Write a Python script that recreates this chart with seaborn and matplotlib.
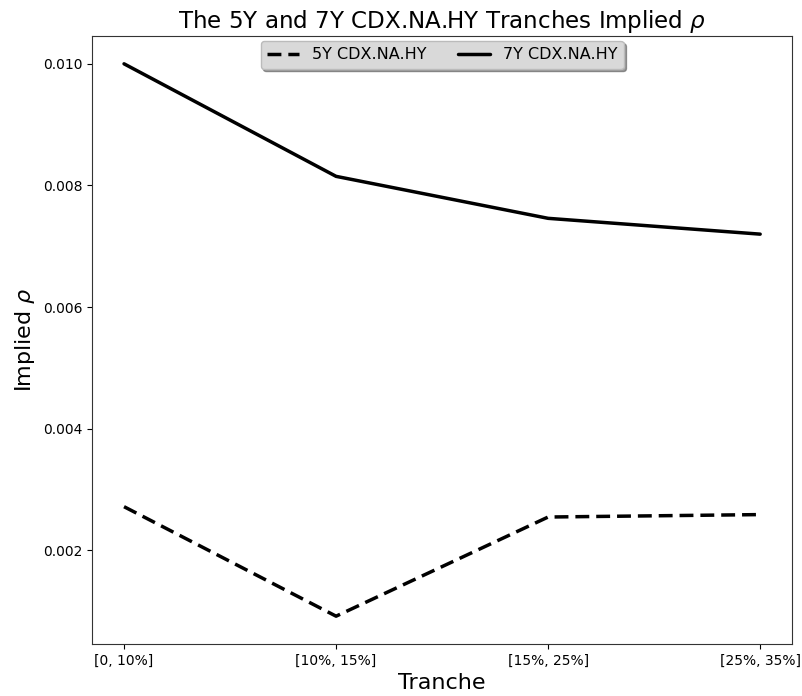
import matplotlib
matplotlib.use("Agg")
import matplotlib.pyplot as plt
import seaborn as sns
import pandas as pd

tranches = ["[0, 10%]", "[10%, 15%]", "[15%, 25%]", "[25%, 35%]"]
rho_5y = [0.00272, 0.00092, 0.00255, 0.00259]
rho_7y = [0.01000, 0.00815, 0.00746, 0.00720]

sns.set_style("ticks")
plt.rcParams['font.family'] = ['DejaVu Sans']
plt.rcParams.update({"text.color": "black", "axes.labelcolor": "black",
                     "xtick.color": "black", "ytick.color": "black",
                     "axes.edgecolor": "black"})

df = pd.DataFrame({
    "x": list(range(len(tranches))) * 2,
    "rho": rho_5y + rho_7y,
    "series": ["5Y CDX.NA.HY"] * 4 + ["7Y CDX.NA.HY"] * 4,
})

fig = plt.figure(figsize=(8.02, 6.96), dpi=100)
ax = fig.add_axes([0.115, 0.075, 0.8725, 0.873])
sns.lineplot(data=df, x="x", y="rho", hue="series", style="series",
             palette=["black", "black"], dashes=[(4, 2), ""], linewidth=2.5,
             ax=ax, legend=False)
lines = ax.get_lines()
lines[0].set_label("5Y CDX.NA.HY")
lines[1].set_label("7Y CDX.NA.HY")

ax.set_xticks(range(len(tranches)))
ax.set_xticklabels(tranches, fontsize=10, family="Liberation Sans Narrow")
ax.set_yticks([0.002, 0.004, 0.006, 0.008, 0.010])
ax.set_yticklabels(["0.002", "0.004", "0.006", "0.008", "0.010"], fontsize=10)
ax.margins(x=0.05, y=0.05)
ax.set_xlabel("Tranche", fontsize=16)
ax.set_ylabel(r"Implied $\rho$", fontsize=16)
ax.set_title(r"The 5Y and 7Y CDX.NA.HY Tranches Implied $\rho$", fontsize=16.6)
for s in ax.spines.values():
    s.set_visible(True)
    s.set_color("#333333")
leg = ax.legend(loc="upper center", ncol=2, fontsize=11.5, shadow=True,
                fancybox=True, facecolor="#d9d9d9", framealpha=1,
                edgecolor="#bbbbbb", borderaxespad=0.3)
fig.savefig("out.png", dpi=100)
